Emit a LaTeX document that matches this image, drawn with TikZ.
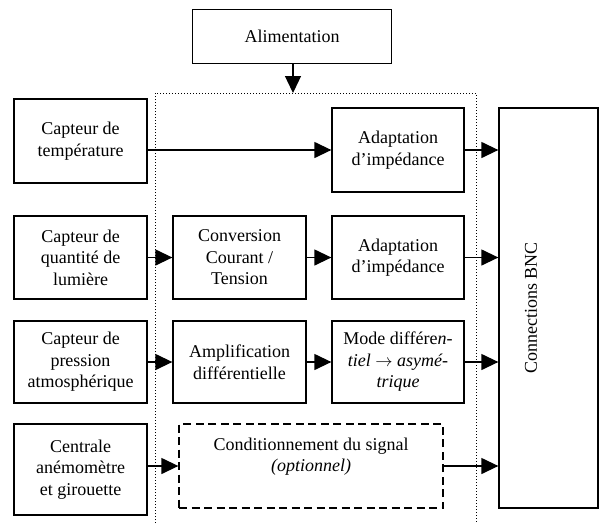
\documentclass[tikz,border=0pt]{standalone}
\usepackage{fontspec}
\setmainfont{Liberation Serif}
\usetikzlibrary{arrows.meta}
\begin{document}
\begin{tikzpicture}[x=1pt,y=-1pt,
  every node/.style={font=\fontsize{18}{21.5}\selectfont, align=center, inner sep=0pt},
  blk/.style={draw, line width=1.3pt, rectangle, minimum width=133pt, minimum height=84pt},
  dashbox/.style={draw, line width=1.3pt, dash pattern=on 8pt off 4.5pt, rectangle, minimum width=264pt, minimum height=84pt},
  conn/.style={line width=1.3pt, -{Triangle[length=17pt,width=16pt]}},
  dotbox/.style={line width=1pt, dash pattern=on 1pt off 2pt}
]
\useasboundingbox (0,0) rectangle (600,523);
% dotted enclosure
\coordinate (dbl) at (155,523);
\coordinate (dtl) at (155,93);
\coordinate (dtr) at (476,93);
\coordinate (dbr) at (476,523);
\draw[dotbox] (dbl) -- (dtl) -- (dtr) -- (dbr);

\node[blk, minimum width=199pt, minimum height=54pt] (alim) at (292,36.3) {Alimentation};

\node[blk] (cap1) at (80.5,141) {Capteur de\\température};
\node[blk, minimum width=132pt] (ad1) at (398,150) {Adaptation\\d’impédance};

\node[blk, minimum height=83pt] (cap2) at (80.5,257.5) {Capteur de\\quantité de\\lumière};
\node[blk, minimum height=83pt] (conv) at (239.5,257.5) {Conversion\\Courant /\\Tension};
\node[blk, minimum width=132pt, minimum height=83pt] (ad2) at (398,257.5) {Adaptation\\d’impédance};

\node[blk, minimum height=82pt] (cap3) at (80.5,362) {Capteur de\\pression\\atmosphérique};
\node[blk, minimum height=82pt] (amp) at (239.5,362) {Amplification\\différentielle};
\node[blk, minimum width=132pt, minimum height=82pt] (mode) at (398,362) {Mode différe\textit{n-}\\\textit{tiel} $\rightarrow$ \textit{asymé-}\\\textit{trique}};

\node[blk, minimum height=91pt] (cen) at (80.5,469.5) {Centrale\\anémomètre\\et girouette};
\node[dashbox] (cond) at (311,466) {};
\node (condlbl) at (311,456.5) {Conditionnement du signal\\\textit{(optionnel)}};

\node[blk, minimum width=99pt, minimum height=400pt] (bnc) at (548.5,308) {};
\node[rotate=90] (bnclbl) at (531,308) {Connections BNC};

% connectors
\draw[conn] (alim.south -| 293,0) -- (293,93);
\draw[conn] (cap1.east |- ad1.west) -- (ad1.west);
\draw[conn] (ad1.east) -- (ad1.east -| bnc.west);
\draw[conn] (cap2.east) -- (conv.west);
\draw[conn] (conv.east) -- (ad2.west);
\draw[conn] (ad2.east) -- (ad2.east -| bnc.west);
\draw[conn] (cap3.east) -- (amp.west);
\draw[conn] (amp.east) -- (mode.west);
\draw[conn] (mode.east) -- (mode.east -| bnc.west);
\draw[conn] (cen.east |- cond.west) -- (cond.west);
\draw[conn] (cond.east) -- (cond.east -| bnc.west);
\end{tikzpicture}
\end{document}
